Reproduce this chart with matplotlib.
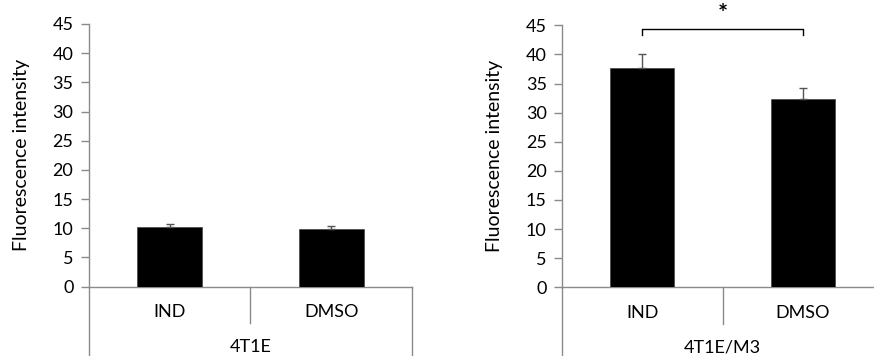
import matplotlib
matplotlib.use('Agg')
import matplotlib.pyplot as plt
import matplotlib.transforms as mtransforms

# 형광 세기 평균값과 표준오차 (위쪽만 표시)
groups = ['IND', 'DMSO']
cell_lines = ['4T1E', '4T1E/M3']
means_4t1e = [10.3, 9.9]
errs_4t1e = [0.4, 0.45]
means_m3 = [37.6, 32.4]
errs_m3 = [2.45, 1.8]
star_level = 44.3
yticks = list(range(0, 50, 5))

plt.rcParams['font.family'] = ['Lato', 'DejaVu Sans']
line_c = '#8a8a8a'

fig = plt.figure(figsize=(8.74, 3.56), dpi=100)
ax1 = fig.add_axes([0.1015, 0.1947, 0.3699, 0.738])
ax2 = fig.add_axes([0.643, 0.193, 0.3677, 0.736])


def draw_panel(ax, means, errs, label):
    x = range(len(groups))
    ax.bar(x, means, width=0.40, color='black', edgecolor='#444444', linewidth=0.5, zorder=2)
    ax.errorbar(x, means, yerr=[[0] * len(errs), errs], fmt='none',
                ecolor='#555555', elinewidth=1.0, capsize=3, capthick=1.0, zorder=3)
    ax.set_xlim(-0.5, 1.5)
    ax.set_ylim(0, 45)
    ax.set_yticks(yticks)
    ax.set_xticks([])
    for s in ['top', 'right', 'bottom']:
        ax.spines[s].set_visible(False)
    ax.spines['left'].set_color(line_c)
    ax.spines['left'].set_linewidth(1.0)
    ax.tick_params(axis='y', direction='out', length=6, width=1.0, color=line_c,
                   labelsize=13, pad=5)
    ax.set_ylabel('Fluorescence intensity', fontsize=14, labelpad=16)

    # x축 선과 범주 구분선 (축 아래로 이어짐)
    tr = mtransforms.blended_transform_factory(ax.transData, ax.transAxes)
    ax.plot([-0.5, 1.5], [0, 0], color=line_c, lw=1.0, clip_on=False, zorder=1)
    ax.plot([-0.5, -0.5], [0, -0.27], transform=tr, color=line_c, lw=1.0, clip_on=False)
    ax.plot([0.5, 0.5], [0, -0.14], transform=tr, color=line_c, lw=1.0, clip_on=False)
    ax.plot([1.5, 1.5], [0, -0.27], transform=tr, color=line_c, lw=1.0, clip_on=False)
    for i, g in enumerate(groups):
        ax.text(i, -0.097, g, transform=tr, ha='center', va='center', fontsize=13)
    ax.text(0.5, -0.23, label, transform=tr, ha='center', va='center', fontsize=13)


draw_panel(ax1, means_4t1e, errs_4t1e, cell_lines[0])
draw_panel(ax2, means_m3, errs_m3, cell_lines[1])

# 유의성 표시
ax2.plot([0, 0, 1, 1], [star_level - 1.0, star_level, star_level, star_level - 1.0],
         color='black', lw=1.0, clip_on=False)
ax2.text(0.5, star_level + 0.5, '*', ha='center', va='bottom', fontsize=17,
         fontweight='bold', clip_on=False)

fig.savefig('out.png', dpi=100)
